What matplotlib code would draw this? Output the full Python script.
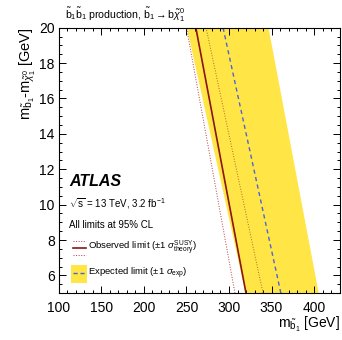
import numpy as np
import matplotlib
matplotlib.use("Agg")
import matplotlib.pyplot as plt
from matplotlib.patches import Rectangle

plt.rcParams['font.family'] = ['Liberation Sans', 'DejaVu Sans']
plt.rcParams['mathtext.fontset'] = 'custom'
plt.rcParams['mathtext.rm'] = 'Liberation Sans'
plt.rcParams['mathtext.it'] = 'Liberation Sans:italic'
plt.rcParams['mathtext.bf'] = 'Liberation Sans:bold'

# limit contours, read at dm = 5 and 20 GeV
dm = [5, 20]
obs = [320, 261]
obs_up = [340, 273]
obs_dn = [307, 250]
exp = [361, 293]
exp_lo = [319, 250]
exp_hi = [405, 346]

yellow = '#FFE545'
darkred = '#8B1414'
dotred = '#B83A3A'
blue = '#4A66D6'

fig = plt.figure(figsize=(3.42, 3.40), dpi=100)
ax = fig.add_axes([0.1725, 0.138, 0.8202, 0.7805])

ax.fill_betweenx(dm, exp_lo, exp_hi, color=yellow, lw=0)
ax.plot(exp, dm, color=blue, ls=(0, (3, 2.5)), lw=1.0)
ax.plot(obs_up, dm, color='#B06A30', ls=':', lw=0.7)
ax.plot(obs_dn, dm, color=dotred, ls=':', lw=0.7)
ax.plot(obs, dm, color=darkred, lw=1.2)

ax.set_xlim(100, 430)
ax.set_ylim(5, 20)
ax.set_xticks(np.arange(100, 401, 50))
ax.set_xticks(np.arange(100, 431, 10), minor=True)
ax.set_yticks(np.arange(6, 21, 2))
ax.set_yticks(np.arange(5, 20.1, 0.5), minor=True)
ax.tick_params(which='both', direction='in', top=True, right=True, width=0.7)
ax.tick_params(which='major', length=5, labelsize=10)
ax.tick_params(which='minor', length=2.5)
ax.tick_params(axis='x', pad=6)
ax.tick_params(axis='y', pad=3)
for s in ax.spines.values():
    s.set_linewidth(0.8)

ax.set_xlabel(r'$\mathrm{m}_{\tilde{\mathrm{b}}_1}$ [GeV]', fontsize=10, loc='right', labelpad=0)
ax.set_ylabel(r'$\mathrm{m}_{\tilde{\mathrm{b}}_1}$-$\mathrm{m}_{\tilde{\chi}_1^0}$ [GeV]',
              fontsize=10.5, loc='top', labelpad=1)

fig.text(0.19, 0.955, r'$\tilde{\mathrm{b}}_1\tilde{\mathrm{b}}_1$ production, '
         r'$\tilde{\mathrm{b}}_1\rightarrow \mathrm{b}\tilde{\chi}_1^0$',
         fontsize=7.6, va='center')

ax.text(0.038, 0.42, 'ATLAS', transform=ax.transAxes, fontsize=11.5,
        fontweight='bold', fontstyle='italic', va='center')
ax.text(0.036, 0.336, r'$\sqrt{\mathrm{s}}$ = 13 TeV, 3.2 fb$^{-1}$', transform=ax.transAxes,
        fontsize=7, va='center')
ax.text(0.036, 0.257, 'All limits at 95% CL', transform=ax.transAxes,
        fontsize=7, va='center')

# legend keys
tr = ax.transAxes
ax.plot([0.05, 0.096], [0.196, 0.196], transform=tr, color=dotred, ls=':', lw=0.7)
ax.plot([0.05, 0.096], [0.17, 0.17], transform=tr, color=darkred, lw=1.2)
ax.plot([0.05, 0.096], [0.142, 0.142], transform=tr, color=dotred, ls=':', lw=0.7)
ax.text(0.103, 0.17, r'Observed limit ($\pm$1 $\sigma^{\mathrm{SUSY}}_{\mathrm{theory}}$)',
        transform=tr, fontsize=6.8, va='center')
ax.add_patch(Rectangle((0.043, 0.038), 0.057, 0.068, transform=tr, color=yellow, lw=0))
ax.plot([0.05, 0.096], [0.074, 0.074], transform=tr, color=blue, ls=(0, (3, 2)), lw=1.0)
ax.text(0.103, 0.074, r'Expected limit ($\pm$1 $\sigma_{\mathrm{exp}}$)',
        transform=tr, fontsize=6.8, va='center')

fig.savefig('out.png', dpi=100)
